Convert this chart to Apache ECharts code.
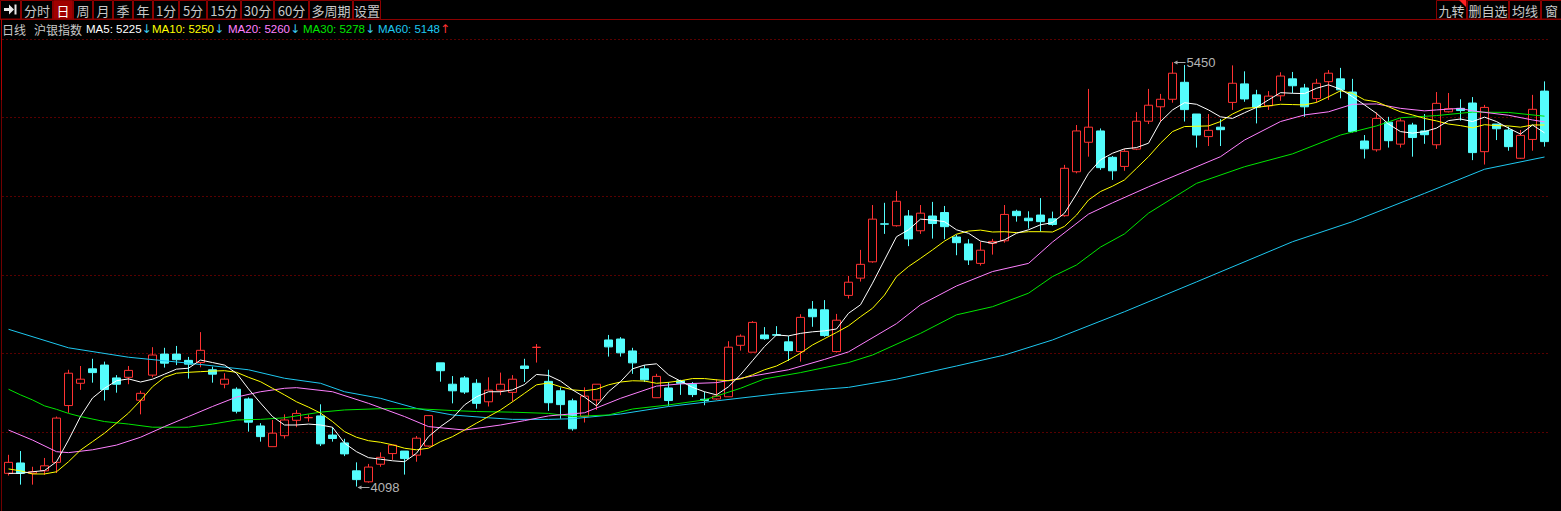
<!DOCTYPE html>
<html><head><meta charset="utf-8">
<script src="https://cdn.jsdelivr.net/npm/echarts@6/dist/echarts.min.js"></script>
<style>html,body{margin:0;padding:0;background:#000;overflow:hidden}#c{width:1561px;height:511px}</style>
</head><body><div id="c"></div>
<script>
// ---- candle data (沪银指数 日线) ----
const opens  = [4140,4173,4140,4148,4175,4356,4427,4473,4485,4444,4446,4373,4453,4520,4520,4500,4493,4470,4424,4408,4377,4291,4225,4260,4309,4317,4323,4262,4237,4148,4113,4169,4203,4211,4198,4227,4492,4424,4444,4427,4368,4405,4398,4482,4541,4433,4403,4371,4321,4374,4565,4568,4530,4473,4381,4412,4435,4424,4376,4377,4384,4548,4526,4581,4582,4559,4528,4663,4661,4528,4707,4762,4814,4935,4929,4960,4913,4960,4971,4893,4871,4809,4873,4881,4975,4953,4963,4951,4961,5101,5195,5231,5147,5118,5173,5262,5308,5332,5386,5285,5213,5243,5322,5381,5346,5311,5343,5397,5368,5334,5388,5397,5355,5199,5171,5259,5189,5250,5231,5187,5292,5303,5320,5165,5253,5234,5144,5204,5358];
const closes = [4175,4140,4145,4164,4316,4459,4440,4461,4407,4424,4468,4395,4517,4491,4502,4488,4532,4456,4440,4338,4303,4257,4268,4310,4331,4318,4234,4251,4202,4120,4160,4191,4230,4187,4252,4324,4467,4403,4399,4363,4405,4424,4440,4474,4542,4365,4359,4282,4386,4424,4543,4524,4492,4438,4449,4372,4427,4391,4372,4386,4542,4577,4621,4569,4580,4531,4637,4639,4579,4628,4749,4806,4950,4934,5007,4887,4969,4936,4926,4875,4820,4851,4879,4965,4961,4945,4942,4933,5112,5231,5243,5114,5104,5166,5262,5313,5332,5415,5299,5218,5233,5235,5383,5333,5307,5342,5406,5375,5308,5383,5415,5362,5229,5174,5271,5200,5263,5210,5219,5319,5302,5296,5162,5306,5238,5181,5217,5300,5197];
const lows   = [4133,4104,4104,4135,4141,4333,4406,4429,4372,4397,4424,4328,4446,4477,4485,4442,4478,4429,4411,4331,4273,4241,4225,4251,4287,4305,4227,4241,4195,4098,4110,4161,4183,4136,4177,4225,4432,4363,4393,4346,4353,4389,4368,4431,4493,4339,4314,4276,4302,4342,4512,4512,4457,4431,4381,4355,4390,4383,4357,4374,4384,4531,4526,4565,4578,4498,4496,4607,4575,4525,4697,4751,4811,4903,4926,4864,4903,4888,4886,4835,4804,4802,4837,4875,4942,4920,4910,4929,4958,5096,5149,5107,5075,5104,5170,5253,5260,5321,5261,5178,5183,5183,5298,5324,5255,5298,5327,5351,5276,5321,5330,5335,5226,5143,5165,5178,5178,5149,5190,5174,5290,5264,5138,5124,5202,5168,5142,5168,5181];
const highs  = [4199,4211,4161,4189,4321,4470,4482,4505,4496,4453,4482,4403,4542,4540,4546,4511,4590,4480,4459,4414,4382,4300,4310,4328,4342,4328,4360,4287,4250,4175,4170,4207,4230,4211,4259,4324,4492,4450,4450,4440,4446,4461,4453,4505,4552,4470,4414,4378,4414,4424,4581,4574,4540,4485,4457,4431,4438,4431,4400,4440,4561,4583,4625,4606,4609,4578,4647,4689,4692,4648,4769,4852,4995,5002,5040,4979,4995,5005,4992,4900,4886,4878,4887,4995,4980,4975,5017,4974,5123,5250,5365,5239,5151,5174,5291,5365,5349,5450,5441,5285,5285,5269,5440,5421,5362,5358,5418,5419,5381,5397,5425,5432,5397,5218,5290,5276,5271,5257,5285,5355,5352,5332,5339,5314,5253,5245,5234,5346,5389];
const categories = closes.map((_, i) => String(i + 1));

// ---- moving averages ----
const ma5 = [4140,4140,4145,4149,4177,4246,4321,4380,4411,4435,4441,4431,4440,4456,4472,4475,4501,4493,4485,4459,4409,4364,4321,4294,4294,4297,4294,4287,4236,4209,4190,4185,4180,4177,4204,4257,4289,4316,4358,4384,4400,4400,4406,4423,4455,4452,4434,4406,4383,4355,4400,4432,4473,4485,4489,4454,4434,4414,4400,4390,4416,4454,4499,4544,4581,4578,4586,4591,4594,4600,4650,4677,4746,4820,4894,4916,4950,4947,4942,4916,4905,4880,4873,4884,4905,4916,4932,4939,4969,5030,5096,5139,5160,5174,5178,5192,5261,5298,5321,5316,5298,5276,5271,5289,5306,5330,5353,5351,5350,5367,5378,5364,5340,5314,5287,5253,5229,5224,5229,5240,5264,5269,5261,5275,5261,5240,5221,5250,5225];
const ma10 = [4154,4148,4138,4138,4145,4177,4214,4241,4268,4300,4332,4372,4416,4446,4459,4462,4464,4466,4467,4462,4446,4432,4411,4390,4368,4351,4332,4305,4273,4255,4244,4239,4231,4220,4215,4220,4241,4257,4278,4300,4321,4342,4368,4395,4422,4428,4416,4406,4403,4408,4422,4431,4435,4434,4427,4430,4435,4442,4442,4438,4435,4441,4454,4470,4482,4501,4523,4549,4569,4589,4610,4639,4666,4708,4767,4799,4825,4852,4880,4902,4912,4915,4909,4910,4907,4910,4910,4909,4927,4963,5011,5038,5055,5075,5112,5149,5192,5229,5245,5246,5247,5261,5285,5303,5306,5311,5316,5315,5314,5322,5340,5359,5351,5330,5324,5308,5292,5282,5271,5263,5253,5248,5241,5251,5248,5247,5243,5250,5250];
const ma20Idx = [0,2,4,5,7,9,11,13,15,17,19,21,23,24,27,30,33,35,38,41,43,45,48,51,54,56,59,62,65,68,70,74,76,79,82,85,87,90,92,95,98,101,103,106,108,110,112,114,116,118,119,121,122,125,127,128];
const ma20Val = [4278,4246,4209,4206,4215,4230,4255,4289,4321,4353,4383,4400,4411,4413,4400,4363,4321,4289,4278,4294,4308,4323,4333,4379,4418,4425,4429,4450,4470,4503,4527,4617,4677,4737,4783,4809,4877,4966,5002,5053,5101,5149,5202,5261,5282,5292,5316,5317,5303,5295,5298,5303,5295,5281,5266,5260];
const ma30Idx = [0,1,2,3,4,5,6,8,10,12,15,17,19,21,23,26,28,31,34,37,39,42,45,47,50,52,55,58,61,63,66,70,72,76,79,82,85,87,89,91,93,95,99,103,107,111,114,116,119,122,125,128];
const ma30Val = [4408,4390,4374,4355,4344,4331,4321,4305,4297,4287,4287,4297,4310,4312,4317,4335,4342,4346,4346,4340,4337,4335,4331,4321,4326,4345,4358,4374,4411,4441,4461,4493,4517,4586,4645,4671,4714,4767,4804,4861,4903,4969,5064,5117,5158,5218,5247,5273,5280,5291,5290,5278];
const ma60Idx = [0,5,10,15,20,23,26,28,31,34,37,40,42,45,47,51,55,59,64,68,70,74,79,83,87,93,99,107,112,118,123,128];
const ma60Val = [4599,4540,4510,4491,4470,4443,4427,4400,4379,4347,4326,4317,4312,4312,4314,4329,4353,4371,4393,4408,4414,4440,4482,4517,4565,4655,4750,4878,4942,5032,5109,5148];

// ---- legend / toolbar text ----
const maNames = ['MA5','MA10','MA20','MA30','MA60'];
const maLast = [5225,5250,5260,5278,5148];
const maDir = ['↓','↓','↓','↓','↑'];
const titleTexts = ['日线','沪银指数'];
const toolLabels = ['分时','日','周','月','季','年','1分','5分','15分','30分','60分','多周期','设置'];
const rightLabels = ['九转','删自选','均线','窗'];
const extremeHigh = {idx:97, value:5450};
const extremeLow = {idx:29, value:4098};

// ---- layout / style ----
const maColors = ['#FFFFFF','#FFFF00','#FF80FF','#00E600','#1EC8F0'];
const upColor = '#FF3232', downColor = '#54FCFC';
const toolEdges = [21,53,73,93,113,133,153,179,207,241,274,309,353,381];
const rightEdges = [1436,1467,1509,1541,1562];
const legendX = [86,152,228,303,378];
const titleX = [2,34];

const chart = echarts.init(document.getElementById('c'), null, {renderer:'svg', width:1561, height:511});
const pairs = (idx, val) => idx.map((x, k) => [x, val[k]]);
const lineSeries = (name, data, color) => ({
  name, type:'line', data, showSymbol:false, symbol:'none', silent:true,
  lineStyle:{color, width:1}, itemStyle:{color}, z:3
});

chart.setOption({
  backgroundColor:'#000',
  animation:false,
  grid:{left:2.5, right:10.5, top:39, bottom:0, containLabel:false},
  xAxis:{type:'category', data:categories, boundaryGap:true,
    axisLine:{show:false}, axisTick:{show:false}, axisLabel:{show:false}, splitLine:{show:false}},
  yAxis:[
    {type:'value', min:4020, max:5524, show:false, splitLine:{show:false}},
    {type:'value', min:0, max:6, interval:1, position:'left',
     axisLine:{show:false}, axisTick:{show:false}, axisLabel:{show:false},
     splitLine:{show:true, lineStyle:{color:'#B00000', type:[1,3], width:1}}}
  ],
  series:[
    {type:'candlestick', name:'沪银指数', barWidth:9, z:2,
     data: opens.map((o, i) => [o, closes[i], lows[i], highs[i]]),
     itemStyle:{color:'rgba(0,0,0,0)', color0:downColor, borderColor:upColor, borderColor0:downColor, borderWidth:1}},
    lineSeries('MA60', pairs(ma60Idx, ma60Val), maColors[4]),
    lineSeries('MA30', pairs(ma30Idx, ma30Val), maColors[3]),
    lineSeries('MA20', pairs(ma20Idx, ma20Val), maColors[2]),
    lineSeries('MA10', ma10, maColors[1]),
    lineSeries('MA5', ma5, maColors[0])
  ]
});

const g = [];
const cjk = '"Noto Sans CJK SC", "Noto Sans", sans-serif';
const lat = '"Liberation Sans", Arial, sans-serif';
const arw = '"DejaVu Sans", sans-serif';
// toolbar
g.push({type:'line', shape:{x1:0, y1:19.5, x2:1561, y2:19.5}, style:{stroke:'#8B0000', lineWidth:1}, z:10});
g.push({type:'rect', shape:{x:0.5, y:0.5, width:20, height:18.5}, style:{fill:'#000', stroke:'#8B0000', lineWidth:1}, z:10});
g.push({type:'polygon', shape:{points:[[4,8],[9,8],[9,4.5],[14,9.5],[9,14.5],[9,11],[4,11]]}, style:{fill:'#E8E8E8'}, z:11});
g.push({type:'rect', shape:{x:14.5, y:4.5, width:2, height:10}, style:{fill:'#E8E8E8'}, z:11});
toolLabels.forEach((t, k) => {
  const x0 = toolEdges[k], x1 = toolEdges[k+1];
  const sel = t === '日';
  g.push({type:'rect', shape:{x:x0+0.5, y:0.5, width:x1-x0-1, height:18.5}, style:{fill: sel ? '#A00000' : '#000', stroke:'#8B0000', lineWidth:1}, z:10});
  g.push({type:'text', x:(x0+x1)/2, y:10, style:{text:t, fill: sel ? '#FFFFFF' : '#C8C8C8', font:'13px ' + cjk, align:'center', verticalAlign:'middle'}, z:11});
});
rightLabels.forEach((t, k) => {
  const x0 = rightEdges[k], x1 = rightEdges[k+1];
  g.push({type:'rect', shape:{x:x0+0.5, y:0.5, width:x1-x0-1, height:18.5}, style:{fill:'#000', stroke:'#8B0000', lineWidth:1}, z:10});
  g.push({type:'text', x:(x0+x1)/2, y:10, style:{text:t, fill:'#C8C8C8', font:'13px ' + cjk, align:'center', verticalAlign:'middle'}, z:11});
});
g.push({type:'polygon', shape:{points:[[1459,0],[1466,0],[1466,7]]}, style:{fill:'#FF2020'}, z:12});
// left border
g.push({type:'line', shape:{x1:1.5, y1:19, x2:1.5, y2:100}, style:{stroke:'#B00000', lineWidth:1}, z:10});
g.push({type:'line', shape:{x1:1.5, y1:100, x2:1.5, y2:511}, style:{stroke:'#700000', lineWidth:1}, z:10});
// title + legend
titleTexts.forEach((t, k) => g.push({type:'text', x:titleX[k], y:29, style:{text:t, fill:'#C8C8C8', font:'12px ' + cjk, verticalAlign:'middle'}, z:11}));
maNames.forEach((n, k) => {
  g.push({type:'text', x:legendX[k], y:29, z:11, style:{
    text:'{a|' + n + ': ' + maLast[k] + '}{b|' + maDir[k] + '}',
    font:'11px ' + lat, verticalAlign:'middle',
    rich:{a:{fill:maColors[k], font:'11.5px ' + lat}, b:{fill: maDir[k] === '↑' ? '#FF3232' : '#3CC8F0', font:'12px ' + arw}}
  }});
});
// extreme markers
[extremeHigh, extremeLow].forEach(m => {
  const p = chart.convertToPixel({xAxisIndex:0, yAxisIndex:0}, [m.idx, m.value]);
  const x = p[0], y = Math.round(p[1]) + 0.5;
  g.push({type:'line', shape:{x1:x+2, y1:y, x2:x+13, y2:y}, style:{stroke:'#A8A8A8', lineWidth:1}, z:12});
  g.push({type:'polygon', shape:{points:[[x+1,y],[x+5,y-2],[x+5,y+2]]}, style:{fill:'#A8A8A8'}, z:12});
  g.push({type:'text', x:x+14, y:y, style:{text:String(m.value), fill:'#B4B4B4', font:'13px ' + lat, verticalAlign:'middle'}, z:12});
});
chart.setOption({graphic:g});
</script></body></html>
